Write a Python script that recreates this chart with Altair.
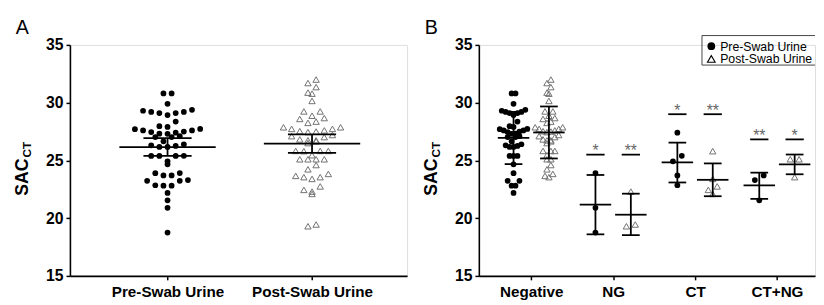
import altair as alt
import pandas as pd

FONT = "Liberation Sans"

# ---------------- data ----------------
y_ticks = [15, 20, 25, 30, 35]
panel_a_categories = ["Pre-Swab Urine", "Post-Swab Urine"]
panel_b_groups = ["Negative", "NG", "CT", "CT+NG"]
series_names = ["Pre-Swab Urine", "Post-Swab Urine"]

neg_pre = [30.8, 30.8, 29.9, 29.38, 29.2, 29.1, 28.93, 29.1, 29.2, 29.3,
           28.36, 27.96, 27.9, 27.73, 27.6, 27.5, 27.45, 27.31, 27.02, 27.02,
           27.1, 27.3, 27.6, 27.7, 26.65, 26.31, 26.17, 26.17, 26.25, 26.4,
           25.39, 25.39, 25.39, 24.66, 23.89, 23.23, 23.23, 22.81, 22.81, 22.18]
neg_post = [32.0, 31.7, 31.35, 30.87, 30.78, 30.15, 29.24, 29.24, 28.87, 28.67,
            28.59, 28.36, 28.25, 27.87, 27.73, 27.53, 27.5, 27.45, 27.6, 27.73,
            27.87, 27.2, 27.02, 26.74, 26.65, 26.82, 26.74, 27.1, 26.5, 25.82,
            25.82, 25.82, 25.45, 25.1, 25.1, 24.6, 24.23, 23.83, 23.55, 23.66]
ng_pre = [23.9, 20.9, 18.75]
ng_post = [22.3, 19.45, 19.3]
ct_pre = [27.4, 25.4, 24.92, 23.7, 22.85]
ct_post = [25.8, 23.4, 22.75, 22.45, 22.1]
ctng_pre = [23.7, 23.3, 21.55]
ctng_post = [25.1, 25.1, 23.55]

# summary lines (mean, lower, upper) as drawn
a_mean = [26.16, 26.45]
a_low = [25.39, 25.65]
a_high = [26.93, 27.25]

b_pre_mean = [26.96, 21.18, 24.83, 22.83]
b_pre_low = [24.68, 18.6, 23.09, 21.67]
b_pre_high = [29.2, 23.74, 26.54, 23.94]
b_post_mean = [27.42, 20.3, 23.32, 24.66]
b_post_low = [25.17, 18.53, 21.9, 23.8]
b_post_high = [29.67, 22.12, 24.74, 25.51]

sig_pre = ["", "*", "*", "**"]
sig_post = ["", "**", "**", "*"]
sig_level = [None, 25.5, 29.0, 26.82]

# ---------------- layout helpers (styling) ----------------
A_W, B_W, H = 343, 342, 235
A_UNIT = 147.0      # px between the two categories of panel A
B_UNIT = 83.33      # px between groups of panel B
B_SIDE = 18.0       # px offset of pre / post inside a group
A_DOMAIN = [-99.3 / A_UNIT, (A_W - 99.3) / A_UNIT]
B_DOMAIN = [-53.3 / B_UNIT, (B_W - 53.3) / B_UNIT]


def swarm(values, thr, d0, max_span):
    vals = sorted(values, reverse=True)
    rows = []
    for v in vals:
        if rows and rows[-1][0] - v < thr:
            rows[-1].append(v)
        else:
            rows.append([v])
    maxn = max(len(r) for r in rows)
    d = d0 if maxn <= 1 else min(d0, max_span / (maxn - 1))
    out = []
    for r in rows:
        n = len(r)
        slots = [(i - (n - 1) / 2) * d for i in range(n)]
        slots = sorted(slots, key=lambda s: (abs(s), s))
        for v, s in zip(sorted(r), slots):
            out.append((v, s))
    return out


# panel A points
a_pre_vals = neg_pre + ng_pre + ct_pre + ctng_pre
a_post_vals = neg_post + ng_post + ct_post + ctng_post
rows = []
for ci, vals in enumerate([a_pre_vals, a_post_vals]):
    for v, off in swarm(vals, 0.5, 8.3, 200):
        rows.append({"x": ci + off / A_UNIT, "y": v, "s": series_names[ci]})
a_pts = pd.DataFrame(rows)

a_seg = []
for ci in range(2):
    c = ci
    a_seg.append({"x": c - 49 / A_UNIT, "x2": c + 49 / A_UNIT, "y": a_mean[ci], "y2": a_mean[ci]})
    for lv in (a_low[ci], a_high[ci]):
        a_seg.append({"x": c - 24.5 / A_UNIT, "x2": c + 24.5 / A_UNIT, "y": lv, "y2": lv})
    a_seg.append({"x": c, "x2": c, "y": a_low[ci], "y2": a_high[ci]})
a_seg = pd.DataFrame(a_seg)

# panel B points
b_sets = [(neg_pre, neg_post), (ng_pre, ng_post), (ct_pre, ct_post), (ctng_pre, ctng_post)]
rows = []
for gi, (pre, post) in enumerate(b_sets):
    for si, vals in enumerate([pre, post]):
        side = -1 if si == 0 else 1
        for v, off in swarm(vals, 0.5, 9.0, 28):
            rows.append({"x": gi + (side * B_SIDE + off) / B_UNIT, "y": v, "s": series_names[si]})
b_pts = pd.DataFrame(rows)

b_seg = []
b_sig = []
for gi in range(4):
    for si, (m, lo, hi, sg) in enumerate([
        (b_pre_mean[gi], b_pre_low[gi], b_pre_high[gi], sig_pre[gi]),
        (b_post_mean[gi], b_post_low[gi], b_post_high[gi], sig_post[gi]),
    ]):
        c = gi + (-1 if si == 0 else 1) * B_SIDE / B_UNIT
        b_seg.append({"x": c - 16 / B_UNIT, "x2": c + 16 / B_UNIT, "y": m, "y2": m})
        for lv in (lo, hi):
            b_seg.append({"x": c - 9 / B_UNIT, "x2": c + 9 / B_UNIT, "y": lv, "y2": lv})
        b_seg.append({"x": c, "x2": c, "y": lo, "y2": hi})
        if sg:
            lvl = sig_level[gi]
            b_seg.append({"x": c - 9.3 / B_UNIT, "x2": c + 9.3 / B_UNIT, "y": lvl, "y2": lvl})
            b_sig.append({"x": c, "y": lvl, "t": sg})
b_seg = pd.DataFrame(b_seg)
b_sig = pd.DataFrame(b_sig)

one = pd.DataFrame({"k": [0]})


def y_enc():
    return alt.Y("y:Q", scale=alt.Scale(domain=[15, 35], nice=False, zero=False),
                 axis=alt.Axis(values=y_ticks, title=None))


def x_enc(domain, values, labels):
    expr = "[" + ",".join("'" + l + "'" for l in labels) + "][datum.value]"
    return alt.X("x:Q", scale=alt.Scale(domain=domain, nice=False, zero=False),
                 axis=alt.Axis(values=values, labelExpr=expr, title=None,
                               labelFontSize=15.5, labelPadding=5,
                               labelFlush=False, labelOverlap=False))


def panel_layers(pts, seg, domain, values, labels, letter):
    xe = x_enc(domain, values, labels)
    ye = y_enc()
    pre = alt.Chart(pts).transform_filter(alt.datum.s == series_names[0]).mark_point(
        shape="circle", filled=True, color="black", size=34, opacity=1
    ).encode(x=xe, y=ye)
    post = alt.Chart(pts).transform_filter(alt.datum.s == series_names[1]).mark_point(
        shape="triangle-up", filled=False, stroke="#707070", strokeWidth=1, size=42, opacity=1
    ).encode(x=xe, y=ye)
    lines = alt.Chart(seg).mark_rule(color="black", strokeWidth=1.8).encode(
        x=xe, x2="x2:Q", y=ye, y2="y2:Q")
    letter_t = alt.Chart(one).mark_text(text=letter, font=FONT, fontSize=20, align="left",
                                        baseline="alphabetic", color="black").encode(
        x=alt.value(-55), y=alt.value(-11.5))
    sac = alt.Chart(one).mark_text(text="SAC", font=FONT, fontSize=18, fontWeight="bold",
                                   angle=270, align="left", baseline="alphabetic",
                                   color="black").encode(x=alt.value(-43), y=alt.value(153.5))
    ct = alt.Chart(one).mark_text(text="CT", font=FONT, fontSize=12, fontWeight="bold",
                                  angle=270, align="left", baseline="alphabetic",
                                  color="black").encode(x=alt.value(-40), y=alt.value(114.5))
    return [pre, post, lines, letter_t, sac, ct]


panel_a = alt.layer(*panel_layers(a_pts, a_seg, A_DOMAIN, [0, 1], panel_a_categories, "A")).properties(
    width=A_W, height=H)

b_layers = panel_layers(b_pts, b_seg, B_DOMAIN, [0, 1, 2, 3], panel_b_groups, "B")
stars = alt.Chart(b_sig).mark_text(font=FONT, fontSize=16, color="#666666", baseline="alphabetic",
                                   dy=1.5).encode(x="x:Q", y="y:Q", text="t:N")

# legend box (three sides, right side cut off by the figure edge)
box = pd.DataFrame([
    {"x": 227, "x2": B_W, "y": -9.5, "y2": -9.5},
    {"x": 227, "x2": B_W, "y": 20.5, "y2": 20.5},
    {"x": 227, "x2": 227, "y": -9.5, "y2": 20.5},
])
legend_box = alt.Chart(box).mark_rule(color="#444444", strokeWidth=1).encode(
    x=alt.X("x:Q", scale=None), x2="x2:Q", y=alt.Y("y:Q", scale=None), y2="y2:Q")
leg_c = alt.Chart(one).mark_point(shape="circle", filled=True, color="black", size=62, opacity=1).encode(
    x=alt.value(236.5), y=alt.value(1.3))
leg_t = alt.Chart(one).mark_point(shape="triangle-up", filled=False, stroke="black", strokeWidth=1.1,
                                  size=62, opacity=1).encode(x=alt.value(236.5), y=alt.value(14.3))
leg_l1 = alt.Chart(one).mark_text(text=series_names[0], font=FONT, fontSize=12.5, align="left",
                                  baseline="alphabetic", color="black").encode(
    x=alt.value(245.5), y=alt.value(6))
leg_l2 = alt.Chart(one).mark_text(text=series_names[1], font=FONT, fontSize=12.5, align="left",
                                  baseline="alphabetic", color="black").encode(
    x=alt.value(245.5), y=alt.value(18.8))

panel_b = alt.layer(*b_layers, stars, legend_box, leg_c, leg_t, leg_l1, leg_l2).properties(
    width=B_W, height=H)

chart = alt.hconcat(panel_a, panel_b, spacing=14).properties(
    padding={"left": 5, "top": 7, "right": 0, "bottom": 0}
).configure_view(stroke=None).configure(background="white").configure_axis(
    grid=False, labelFont=FONT, labelFontWeight="bold", labelColor="black", labelFontSize=16,
    labelPadding=3, domainColor="black", domainWidth=1.6, tickColor="black", tickWidth=1.5,
    tickSize=4
)

chart.save("out.html", embed_options={"renderer": "svg", "actions": False})
